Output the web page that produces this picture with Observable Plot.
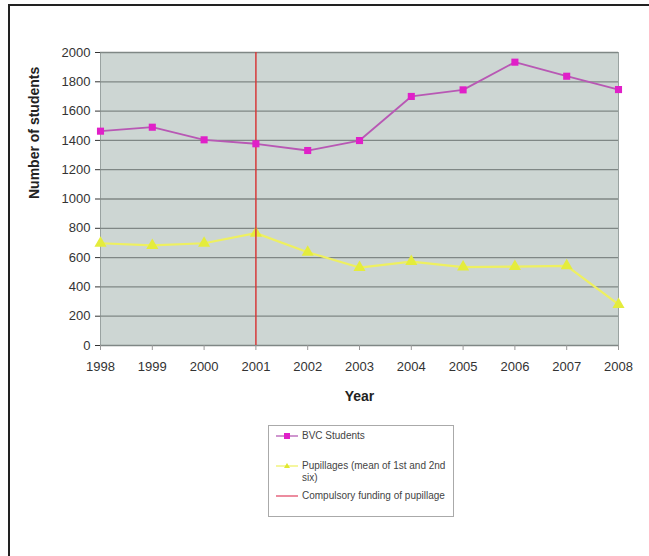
<!DOCTYPE html>
<html>
<head>
<meta charset="utf-8">
<script src="https://cdn.jsdelivr.net/npm/d3@7"></script>
<script src="https://cdn.jsdelivr.net/npm/@observablehq/plot@0.6"></script>
<style>
  html, body { margin: 0; padding: 0; background: #fff; width: 649px; height: 556px; overflow: hidden; }
  #frame { position: absolute; left: 8px; top: 4px; width: 660px; height: 600px; border-top: 2px solid #222; border-left: 2px solid #222; }
  #chart { position: absolute; left: 0; top: 0; }
  #legend { position: absolute; left: 268px; top: 425px; width: 184px; height: 90px; border: 1px solid #aaa; background: #fff;
            font-family: "Liberation Sans", Arial, sans-serif; font-size: 10px; color: #444; }
  .item { position: absolute; left: 7px; display: flex; align-items: flex-start; }
  .item svg { flex: none; margin-right: 2px; }
  .item span { line-height: 12px; }
</style>
</head>
<body>
<div id="frame"></div>
<div id="chart"></div>
<div id="legend">
  <div class="item" style="top:4px"><svg width="24" height="12"><line x1="0" y1="6" x2="22" y2="6" stroke="#b050b0" stroke-width="1.2"/><rect x="8" y="3" width="6" height="6" fill="#e020c8"/></svg><span>BVC Students</span></div>
  <div class="item" style="top:34px;width:176px"><svg width="24" height="12"><line x1="0" y1="6" x2="22" y2="6" stroke="#eef060" stroke-width="1.2"/><path d="M11,3 L14,8 L8,8 Z" fill="#e0e830"/></svg><span style="width:150px">Pupillages (mean of 1st and 2nd six)</span></div>
  <div class="item" style="top:64px"><svg width="24" height="12"><line x1="0" y1="6" x2="22" y2="6" stroke="#e04060" stroke-width="1.2"/></svg><span>Compulsory funding of pupillage</span></div>
</div>
<script>
const years = [1998, 1999, 2000, 2001, 2002, 2003, 2004, 2005, 2006, 2007, 2008];
const bvcStudents = [1463, 1490, 1404, 1377, 1331, 1399, 1700, 1745, 1934, 1838, 1747];
const pupillages = [698, 683, 698, 767, 637, 532, 573, 535, 539, 544, 280];
const fundingYear = 2001;
const yTicks = [0, 200, 400, 600, 800, 1000, 1200, 1400, 1600, 1800, 2000];

const bvc = years.map((y, i) => ({year: y, value: bvcStudents[i]}));
const pup = years.map((y, i) => ({year: y, value: pupillages[i]}));

const chart = Plot.plot({
  width: 649,
  height: 410,
  marginLeft: 100,
  marginRight: 31,
  marginTop: 52,
  marginBottom: 65,
  style: { fontFamily: "Liberation Sans, Arial, sans-serif", fontSize: "13px", color: "#333", background: "transparent" },
  x: { domain: [1998, 2008], label: null },
  y: { domain: [0, 2000], label: null },
  marks: [
    Plot.frame({ fill: "#cdd6d3", stroke: "#9aa3a1" }),
    Plot.ruleY(yTicks, { stroke: "#7f8785", strokeWidth: 1.3 }),
    Plot.line(pup, { x: "year", y: "value", stroke: "#eef060", strokeWidth: 2.2 }),
    Plot.dot(pup, { x: "year", y: "value", symbol: "triangle", r: 4.5, fill: "#e4ec3c" }),
    Plot.ruleX([fundingYear], { stroke: "#d63a3a", strokeWidth: 1.5 }),
    Plot.line(bvc, { x: "year", y: "value", stroke: "#b858b4", strokeWidth: 1.8 }),
    Plot.dot(bvc, { x: "year", y: "value", symbol: "square", r: 4, fill: "#e020c8" }),
    Plot.axisX({ ticks: years, tickFormat: d => String(d), tickSize: 5, tickPadding: 11, label: null, stroke: "#999" }),
    Plot.axisY({ ticks: yTicks, tickFormat: d => String(d), tickSize: 5, tickPadding: 5, label: null }),
    Plot.text(["Year"], { frameAnchor: "bottom", dy: 55, fontWeight: "bold", fontSize: 14, fill: "#222" }),
    Plot.text(["Number of students"], { frameAnchor: "left", dx: -66, rotate: -90, fontWeight: "bold", fontSize: 14, fill: "#222" })
  ]
});
document.getElementById("chart").appendChild(chart);
</script>
</body>
</html>
